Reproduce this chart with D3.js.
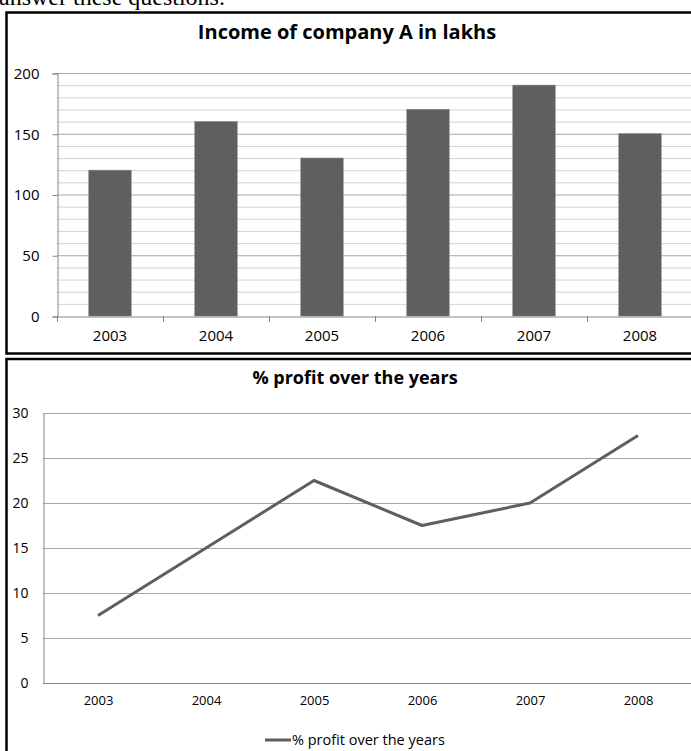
<!DOCTYPE html>
<html><head><meta charset="utf-8">
<script src="https://cdn.jsdelivr.net/npm/d3@7"></script>
<style>
html,body{margin:0;padding:0;background:#fff;overflow:hidden;}
svg{display:block;}
</style></head>
<body>
<svg id="chart" width="691" height="751"></svg>
<script>
const years = ["2003","2004","2005","2006","2007","2008"];
const income = [120,160,130,170,190,150];
const profit = [7.5,15,22.5,17.5,20,27.5];
const incomeTicks = [0,50,100,150,200];
const incomeMinor = [10,20,30,40,60,70,80,90,110,120,130,140,160,170,180,190];
const profitTicks = [0,5,10,15,20,25,30];
const introText = "answer these questions.";
const title1 = "Income of company A in lakhs";
const title2 = "% profit over the years";
const legendLabel = "% profit over the years";

const svg = d3.select("#chart");
const FONT = "'Open Sans', 'Noto Sans', sans-serif";

// intro text (cut off at top, as in the source page)
svg.append("text").attr("x",-1).attr("y",5)
  .attr("font-family","'Liberation Serif', serif").attr("font-size",24)
  .attr("fill","#000").text(introText);

// boxes
svg.append("rect").attr("x",6.5).attr("y",12.5).attr("width",720).attr("height",341)
  .attr("fill","none").attr("stroke","#000").attr("stroke-width",2.5);
svg.append("rect").attr("x",6.5).attr("y",359).attr("width",720).attr("height",420)
  .attr("fill","none").attr("stroke","#000").attr("stroke-width",2.5);

// ---------- Top chart ----------
const g1 = svg.append("g");
const x1 = d3.scaleBand().domain(years).range([57,693]).paddingInner(0.6).paddingOuter(0.3);
const y1 = d3.scaleLinear().domain([0,200]).range([316,73]);

g1.append("text").attr("x",347).attr("y",39).attr("text-anchor","middle")
  .attr("font-family",FONT).attr("font-weight","bold").attr("font-size",20)
  .attr("fill","#000").text(title1);

// minor gridlines
g1.selectAll("line.minor").data(incomeMinor).join("line")
  .attr("x1",57).attr("x2",693).attr("y1",d=>y1(d)+0.5).attr("y2",d=>y1(d)+0.5)
  .attr("stroke","#d4d4d4").attr("stroke-width",1);
// major gridlines
g1.selectAll("line.major").data(incomeTicks.filter(d=>d>0)).join("line")
  .attr("x1",57).attr("x2",693).attr("y1",d=>y1(d)+0.5).attr("y2",d=>y1(d)+0.5)
  .attr("stroke","#a6a6a6").attr("stroke-width",1);

// bars
g1.selectAll("rect.bar").data(years).join("rect")
  .attr("x",d=>x1(d)).attr("width",x1.bandwidth())
  .attr("y",(d,i)=>y1(income[i])).attr("height",(d,i)=>y1(0)-y1(income[i]))
  .attr("fill","#5f5f5f").attr("stroke","#7a7a7a").attr("stroke-width",0.6);

// y axis
const ya1 = g1.append("g").attr("transform","translate(57.5,0.5)")
  .call(d3.axisLeft(y1).tickValues(incomeTicks).tickSize(5).tickPadding(13).tickFormat(d3.format("d")));
ya1.select(".domain").attr("stroke","#868686");
ya1.selectAll(".tick line").attr("stroke","#868686");
ya1.selectAll("text").attr("font-family",FONT).attr("font-size",15).attr("fill","#000");

// x axis
const xa1 = g1.append("g").attr("transform","translate(0,316.5)")
  .call(d3.axisBottom(x1).tickSize(0).tickPadding(14));
xa1.select(".domain").attr("stroke","#868686");
xa1.selectAll("text").attr("font-family",FONT).attr("font-size",15).attr("fill","#000");
// category boundary ticks
g1.selectAll("line.bt").data(years).join("line")
  .attr("x1",d=>Math.round(x1(d)-x1.step()*0.3)+0.5).attr("x2",d=>Math.round(x1(d)-x1.step()*0.3)+0.5)
  .attr("y1",316).attr("y2",322).attr("stroke","#868686");

// ---------- Bottom chart ----------
const g2 = svg.append("g");
const x2 = d3.scalePoint().domain(years).range([44,692]).padding(0.5);
const y2 = d3.scaleLinear().domain([0,30]).range([683,413]);

g2.append("text").attr("x",355).attr("y",384).attr("text-anchor","middle")
  .attr("font-family",FONT).attr("font-weight","bold").attr("font-size",18)
  .attr("fill","#000").text(title2);

g2.selectAll("line.grid").data(profitTicks.filter(d=>d>0)).join("line")
  .attr("x1",43).attr("x2",692).attr("y1",d=>y2(d)+0.5).attr("y2",d=>y2(d)+0.5)
  .attr("stroke","#a6a6a6").attr("stroke-width",1);

const ya2 = g2.append("g").attr("transform","translate(43.5,0.5)")
  .call(d3.axisLeft(y2).tickValues(profitTicks).tickSize(0).tickPadding(15).tickFormat(d3.format("d")));
ya2.select(".domain").attr("stroke","#868686");
ya2.selectAll("text").attr("font-family",FONT).attr("font-size",14).attr("fill","#000");

const xa2 = g2.append("g").attr("transform","translate(0,683.5)")
  .call(d3.axisBottom(x2).tickSize(0).tickPadding(12));
xa2.select(".domain").attr("stroke","#868686").attr("d","M43,0H692");
xa2.selectAll("text").attr("font-family",FONT).attr("font-size",13).attr("fill","#000");

const line = d3.line().x((d,i)=>x2(years[i])).y(d=>y2(d));
g2.append("path").datum(profit).attr("d",line)
  .attr("fill","none").attr("stroke","#5f5f5f").attr("stroke-width",3)
  .attr("stroke-linejoin","round");

// legend
const lg = g2.append("g").attr("transform","translate(265,740)");
lg.append("line").attr("x1",0).attr("x2",26).attr("y1",0).attr("y2",0)
  .attr("stroke","#5f5f5f").attr("stroke-width",3);
lg.append("text").attr("x",27).attr("y",5).attr("font-family",FONT).attr("font-size",14.5)
  .attr("fill","#000").text(legendLabel);
</script>
</body></html>
